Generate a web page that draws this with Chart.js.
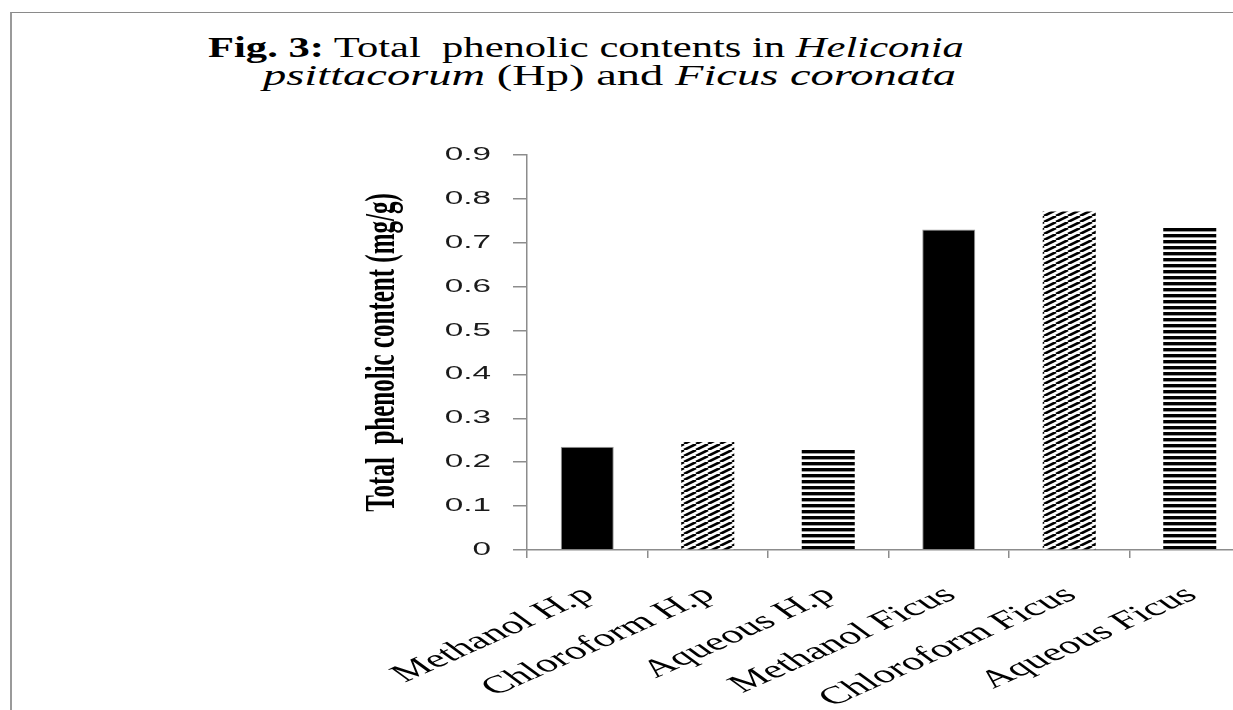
<!DOCTYPE html>
<html>
<head>
<meta charset="utf-8">
<script src="https://cdn.jsdelivr.net/npm/chart.js@4"></script>
<style>
    html, body { margin: 0; padding: 0; background: #fff; overflow: hidden; width: 1233px; height: 710px; }
    .frame { position: absolute; left: 10px; top: 12px; width: 1400px; height: 800px; border-left: 2px solid #9a9a9a; border-top: 1px solid #8a8a8a; }
    .title { position: absolute; font-family: "Liberation Serif", "Times New Roman", serif; font-size: 30px; line-height: 30px; color: #000; white-space: pre; transform-origin: left top; }
    #chart { position: absolute; left: 0; top: 0; }
</style>
</head>
<body>
<div class="frame"></div>
<div class="title" style="left:208px; top:32px; transform: scaleX(1.42);"><b>Fig. 3:</b> Total  phenolic contents in <i>Heliconia</i></div>
<div class="title" style="left:263px; top:60px; transform: scaleX(1.55);"><i>psittacorum</i> (Hp) and <i>Ficus coronata</i></div>
<canvas id="chart" width="1260" height="710"></canvas>
<script>
const categories = ['Methanol H.p', 'Chloroform H.p', 'Aqueous H.p', 'Methanol Ficus', 'Chloroform Ficus', 'Aqueous Ficus'];
const phenolicValues = [0.235, 0.246, 0.232, 0.73, 0.771, 0.734];
const yAxisTitle = 'Total  phenolic content (mg/g)';
const yMin = 0;
const yMax = 0.9;
const yStep = 0.1;

// the source picture is stretched sideways, text included
const stretch = 1.85;

function makePattern(kind) {
    const tile = document.createElement('canvas');
    const c = tile.getContext('2d');
    if (kind === 'horizontal') {
        tile.width = 4; tile.height = 6;
        c.fillStyle = '#fff';
        c.fillRect(0, 0, 4, 6);
        c.fillStyle = '#000';
        c.fillRect(0, 0, 4, 3.4);
    } else {
        tile.width = 12; tile.height = 6;
        c.fillStyle = '#fff';
        c.fillRect(0, 0, 12, 6);
        c.strokeStyle = '#000';
        c.lineWidth = 2.6;
        for (let x0 = -12; x0 <= 12; x0 += 12) {
            c.beginPath();
            c.moveTo(x0, 6);
            c.lineTo(x0 + 12, 0);
            c.stroke();
        }
    }
    return document.getElementById('chart').getContext('2d').createPattern(tile, 'repeat');
}

const diag = makePattern('diagonal');
const horiz = makePattern('horizontal');
const barFills = ['#000', diag, horiz, '#000', diag, horiz];

function fmt(v) {
    return String(parseFloat(v.toFixed(1)));
}

const textPlugin = {
    id: 'stretchedText',
    afterDraw(chart) {
        const ctx = chart.ctx;
        const xs = chart.scales.x;
        const ys = chart.scales.y;
        const area = chart.chartArea;
        ctx.save();
        ctx.fillStyle = '#1a1a1a';

        // y tick labels
        ctx.font = '18px "Liberation Sans", Arial, sans-serif';
        ctx.textAlign = 'right';
        ctx.textBaseline = 'middle';
        ys.ticks.forEach((t, i) => {
            ctx.save();
            ctx.translate(area.left - 36, ys.getPixelForTick(i));
            ctx.scale(stretch, 1);
            ctx.fillText(fmt(t.value), 0, 0);
            ctx.restore();
        });

        // x category labels
        ctx.fillStyle = '#000';
        ctx.font = '25px "Liberation Serif", "Times New Roman", serif';
        ctx.textAlign = 'right';
        ctx.textBaseline = 'middle';
        categories.forEach((label, i) => {
            ctx.save();
            ctx.translate(xs.getPixelForTick(i) + 2, area.bottom + 42);
            ctx.scale(1.75, 1);
            ctx.rotate(-38 * Math.PI / 180);
            ctx.fillText(label, 0, 0);
            ctx.restore();
        });

        // y axis title
        ctx.font = 'bold 25px "Liberation Serif", "Times New Roman", serif';
        ctx.textAlign = 'center';
        ctx.textBaseline = 'middle';
        ctx.save();
        ctx.translate(area.left - 144, (area.top + area.bottom) / 2);
        ctx.scale(1.7, 1);
        ctx.rotate(-Math.PI / 2);
        ctx.fillText(yAxisTitle, 0, 0);
        ctx.restore();

        ctx.restore();
    }
};

new Chart(document.getElementById('chart'), {
    type: 'bar',
    data: {
        labels: categories,
        datasets: [{
            data: phenolicValues,
            backgroundColor: barFills,
            borderColor: '#9a9a9a',
            borderWidth: [1, 0, 0, 1, 0, 0],
            categoryPercentage: 1,
            barPercentage: 0.44
        }]
    },
    options: {
        responsive: false,
        animation: false,
        layout: { padding: { left: 0, top: 155, right: 10, bottom: 0 } },
        plugins: {
            legend: { display: false },
            tooltip: { enabled: false },
            title: { display: false }
        },
        scales: {
            x: {
                offset: true,
                afterFit(scale) { scale.height = 160; },
                border: { display: true, color: '#8c8c8c', width: 1.5 },
                grid: { offset: true, drawOnChartArea: false, drawTicks: true, tickLength: 8, color: '#8c8c8c', lineWidth: 1.5 },
                ticks: { color: 'transparent', font: { size: 1 }, maxRotation: 0, minRotation: 0 }
            },
            y: {
                min: yMin,
                max: yMax,
                afterFit(scale) { scale.width = 527; },
                border: { display: true, color: '#8c8c8c', width: 1.5 },
                grid: { drawOnChartArea: false, drawTicks: true, tickLength: 14, color: '#8c8c8c', lineWidth: 1.5 },
                ticks: { stepSize: yStep, color: 'transparent', font: { size: 1 } }
            }
        }
    },
    plugins: [textPlugin]
});
</script>
</body>
</html>
